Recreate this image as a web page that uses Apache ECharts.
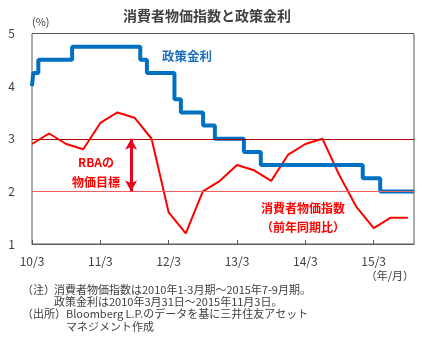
<!DOCTYPE html>
<html><head><meta charset="utf-8">
<script src="https://cdn.jsdelivr.net/npm/echarts@6/dist/echarts.min.js"></script>
<style>html,body{margin:0;padding:0;background:#fff}#c{width:445px;height:358px}</style>
</head><body><div id="c"></div>
<script>
// ---- data ----
var tickLabels = ['10/3','11/3','12/3','13/3','14/3','15/3'];
var cpiPeriods = ['2010-03','2010-06','2010-09','2010-12','2011-03','2011-06','2011-09','2011-12',
  '2012-03','2012-06','2012-09','2012-12','2013-03','2013-06','2013-09','2013-12',
  '2014-03','2014-06','2014-09','2014-12','2015-03','2015-06','2015-09'];
var cpiValues = [2.9,3.1,2.9,2.8,3.3,3.5,3.4,3.0,1.6,1.2,2.0,2.2,2.5,2.4,2.2,2.7,2.9,3.0,2.3,1.7,1.3,1.5,1.5];
var rateDates = ['2010-03-31','2010-04-07','2010-05-04','2010-11-02','2011-11-01','2011-12-06','2012-05-01',
  '2012-06-05','2012-10-02','2012-12-04','2013-05-07','2013-08-06','2015-02-03','2015-05-05','2015-11-03'];
var rateValues = [4.0,4.25,4.5,4.75,4.5,4.25,3.75,3.5,3.25,3.0,2.75,2.5,2.25,2.0,2.0];
var targetLow = 2, targetHigh = 3;
var startDate = '2010-03-31', endDate = '2015-11-03';

// months since 2010-03-31
function toMonths(s){
  var p = s.split('-').map(Number);
  var m = (p[0]-2010)*12 + (p[1]-3);
  if (p.length > 2) m += (p[2]-31)/30.4;
  return m;
}
var cpiData = cpiPeriods.map(function(p,i){ return [toMonths(p), cpiValues[i]]; });
var rateData = rateDates.map(function(d,i){ return [toMonths(d), rateValues[i]]; });
var xMax = toMonths(endDate);
var arrowX = 17.4;

var F = '"Noto Sans CJK JP", "Noto Sans", sans-serif';
var chart = echarts.init(document.getElementById('c'));
function txt(x,y,t,o){
  return Object.assign({type:'text', x:x, y:y, style:Object.assign({text:t, fontFamily:F, fontSize:11, fill:'#404040', textVerticalAlign:'middle'}, o||{})});
}
chart.setOption({
  animation:false,
  grid:{left:32, right:31, top:33.5, bottom:114, show:true, borderColor:'#595959', borderWidth:1, backgroundColor:'transparent'},
  xAxis:{type:'value', min:0, max:xMax, interval:12,
    axisLine:{show:true, lineStyle:{color:'#595959'}},
    axisTick:{show:true, inside:true, length:4, lineStyle:{color:'#595959'}},
    splitLine:{show:false},
    axisLabel:{fontFamily:F, fontSize:12, color:'#404040', margin:11, showMaxLabel:false,
      formatter:function(v){ var i = Math.round(v/12); return tickLabels[i] || ''; }}
  },
  yAxis:{type:'value', min:1, max:5, interval:1,
    axisLine:{show:false}, axisTick:{show:false}, splitLine:{show:false},
    axisLabel:{fontFamily:F, fontSize:12, color:'#404040', margin:17}
  },
  series:[
    {type:'line', data:[], silent:true,
      markLine:{silent:true, symbol:['none','none'], label:{show:false},
        data:[
          {yAxis:targetHigh, lineStyle:{color:'#b00000', width:1, type:'solid'}},
          {yAxis:targetLow, lineStyle:{color:'#f06060', width:1, type:'solid'}}
        ]}
    },
    {type:'line', data:[], silent:true,
      markLine:{silent:true, symbol:['arrow','arrow'], symbolSize:[9,11], label:{show:false},
        lineStyle:{color:'#e8001c', width:3, type:'solid'},
        data:[[{coord:[arrowX,targetHigh]},{coord:[arrowX,targetLow]}]]}
    },
    {name:'CPI', type:'line', data:cpiData, showSymbol:false, lineStyle:{color:'#ff0000', width:2}, z:3},
    {name:'Rate', type:'line', step:'end', data:rateData, showSymbol:false, lineStyle:{color:'#0070c0', width:4}, z:4}
  ],
  graphic:[
    txt(207,16,'消費者物価指数と政策金利',{fontSize:14, fontWeight:'bold', fill:'#404040', textAlign:'center'}),
    txt(32,22,'(%)',{fontSize:11}),
    txt(187,56,'政策金利',{fontSize:12.5, fontWeight:'bold', fill:'#1a6ec0', textAlign:'center'}),
    txt(96,162,'RBAの',{fontSize:12, fontWeight:'bold', fill:'#ff0000', textAlign:'center'}),
    txt(96,182,'物価目標',{fontSize:12, fontWeight:'bold', fill:'#ff0000', textAlign:'center'}),
    txt(303,208,'消費者物価指数',{fontSize:12, fontWeight:'bold', fill:'#ff0000', textAlign:'center'}),
    txt(303,227,'（前年同期比）',{fontSize:12, fontWeight:'bold', fill:'#ff0000', textAlign:'center'}),
    txt(414,276,'（年/月）',{fontSize:11, textAlign:'right'}),
    txt(22,290,'（注）',{fontSize:11}),
    txt(54,290,'消費者物価指数は2010年1-3月期～2015年7-9月期。',{fontSize:11}),
    txt(54,302,'政策金利は2010年3月31日～2015年11月3日。',{fontSize:11}),
    txt(22,314,'（出所）',{fontSize:11}),
    txt(66,314,'Bloomberg L.P.のデータを基に三井住友アセット',{fontSize:11}),
    txt(66,327,'マネジメント作成',{fontSize:11})
  ]
});
</script></body></html>
